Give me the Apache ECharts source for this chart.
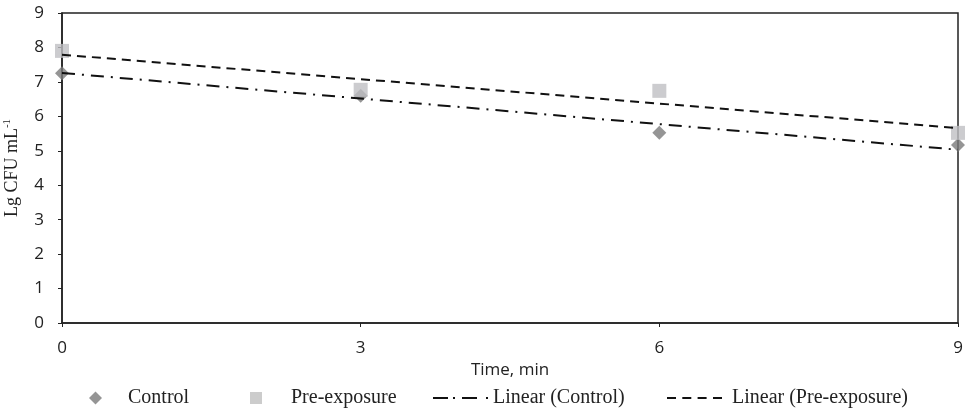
<!DOCTYPE html>
<html>
<head>
<meta charset="utf-8">
<script src="https://cdn.jsdelivr.net/npm/echarts@6/dist/echarts.min.js"></script>
<style>
  html, body { margin: 0; padding: 0; background: #fff; }
  #main { width: 966px; height: 413px; }
</style>
</head>
<body>
<div id="main"></div>
<script>
// 数据
var times = [0, 3, 6, 9];
var control = [7.25, 6.6, 5.52, 5.17];
var preExposure = [7.9, 6.77, 6.74, 5.52];
// 趋势线两端
var trendX = [0, 9];
var trendControl = [7.26, 5.03];
var trendPre = [7.79, 5.66];

function pairs(xs, ys) {
  return xs.map(function (x, i) { return [x, ys[i]]; });
}

var chart = echarts.init(document.getElementById('main'));

var legendFont = { fontFamily: 'Liberation Serif', fontSize: 20, color: '#222' };
// 图例图标: 点划线 / 虚线
var dashDotIcon = 'path://M0,0h15v2h-15z M20,0h2v2h-2z M29,0h15v2h-15z M53,0h2v2h-2z';
var dashIcon = 'path://M0,0h9v2h-9z M15.3,0h9v2h-9z M30.6,0h9v2h-9z M46,0h9v2h-9z';

function legendAt(left, name, icon, w, h, color, pad) {
  return {
    left: left, top: 388, padding: 0,
    itemWidth: w, itemHeight: h,
    selectedMode: false,
    textStyle: Object.assign({ padding: [0, 0, 0, pad] }, legendFont),
    data: [{ name: name, icon: icon, itemStyle: { color: color, borderWidth: 0 } }]
  };
}

var option = {
  animation: false,
  grid: {
    left: 62, right: 8, top: 13, bottom: 90,
    outerBoundsMode: 'none',
    containLabel: false,
    show: true, borderColor: '#222', borderWidth: 1.5
  },
  // 四个图例分别定位
  legend: [
    legendAt(89, 'Control', 'diamond', 13, 13, '#7a7a7a', 21),
    legendAt(250, 'Pre-exposure', 'rect', 12, 12, '#bfbfbf', 24),
    legendAt(433, 'Linear (Control)', dashDotIcon, 55, 2, '#111', 0),
    legendAt(667, 'Linear (Pre-exposure)', dashIcon, 55, 2, '#111', 5)
  ],
  xAxis: {
    type: 'value',
    min: 0, max: 9, interval: 3,
    name: 'Time, min',
    nameLocation: 'middle',
    nameGap: 33,
    nameTextStyle: { fontFamily: 'Open Sans', fontSize: 17, color: '#222' },
    axisLine: { lineStyle: { color: '#222', width: 1.5 } },
    axisTick: { show: true, length: 4, lineStyle: { color: '#222' } },
    axisLabel: { fontFamily: 'Open Sans', fontSize: 17, color: '#222', margin: 17 },
    splitLine: { show: false }
  },
  yAxis: {
    type: 'value',
    min: 0, max: 9, interval: 1,
    name: 'Lg CFU mL{sup|-1}',
    nameLocation: 'middle',
    nameGap: 40,
    nameTextStyle: {
      fontFamily: 'Liberation Serif', fontSize: 18, color: '#222',
      rich: { sup: { fontFamily: 'Liberation Serif', fontSize: 11, verticalAlign: 'top', padding: [0, 0, 9, 0] } }
    },
    axisLine: { show: true, lineStyle: { color: '#222', width: 1.5 } },
    axisTick: { show: true, length: 4, lineStyle: { color: '#222' } },
    axisLabel: { fontFamily: 'Open Sans', fontSize: 17, color: '#222', margin: 18 },
    splitLine: { show: false }
  },
  series: [
    {
      name: 'Linear (Control)',
      type: 'line',
      data: pairs(trendX, trendControl),
      symbol: 'none',
      lineStyle: { color: '#111', width: 2, type: [13, 7, 2, 7] },
      itemStyle: { color: '#111' },
      z: 3
    },
    {
      name: 'Linear (Pre-exposure)',
      type: 'line',
      data: pairs(trendX, trendPre),
      symbol: 'none',
      lineStyle: { color: '#111', width: 2, type: [9, 6] },
      itemStyle: { color: '#111' },
      z: 3
    },
    {
      name: 'Control',
      type: 'scatter',
      data: pairs(times, control),
      symbol: 'diamond',
      symbolSize: 14,
      itemStyle: { color: '#7a7a7a' },
      z: 2
    },
    {
      name: 'Pre-exposure',
      type: 'scatter',
      data: pairs(times, preExposure),
      symbol: 'rect',
      symbolSize: 14,
      itemStyle: { color: '#bfbfc3' },
      z: 2
    }
  ]
};

chart.setOption(option);
</script>
</body>
</html>
